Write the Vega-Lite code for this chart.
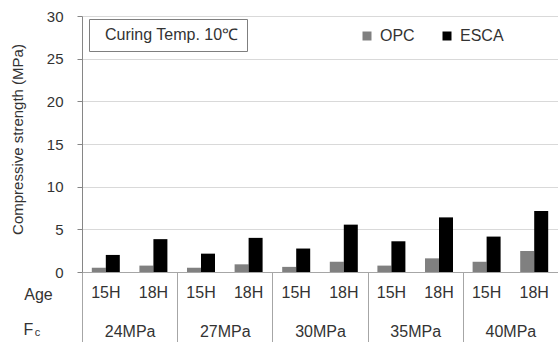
{
  "$schema": "https://vega.github.io/schema/vega-lite/v6.json",
  "width": 476,
  "height": 256,
  "autosize": {"type": "none"},
  "padding": {"left": 82, "top": 16, "right": 0, "bottom": 70},
  "config": {
    "font": "Liberation Sans",
    "view": {"stroke": null},
    "axis": {"labelColor": "#333333", "titleColor": "#333333", "titleFontWeight": "normal"}
  },
  "datasets": {
    "strength": [
      {"fc": "24MPa", "age": "15H", "key": "24MPa_15H", "series": "OPC", "value": 0.5},
      {"fc": "24MPa", "age": "15H", "key": "24MPa_15H", "series": "ESCA", "value": 2.0},
      {"fc": "24MPa", "age": "18H", "key": "24MPa_18H", "series": "OPC", "value": 0.75},
      {"fc": "24MPa", "age": "18H", "key": "24MPa_18H", "series": "ESCA", "value": 3.85},
      {"fc": "27MPa", "age": "15H", "key": "27MPa_15H", "series": "OPC", "value": 0.5},
      {"fc": "27MPa", "age": "15H", "key": "27MPa_15H", "series": "ESCA", "value": 2.15},
      {"fc": "27MPa", "age": "18H", "key": "27MPa_18H", "series": "OPC", "value": 0.9},
      {"fc": "27MPa", "age": "18H", "key": "27MPa_18H", "series": "ESCA", "value": 4.0},
      {"fc": "30MPa", "age": "15H", "key": "30MPa_15H", "series": "OPC", "value": 0.6},
      {"fc": "30MPa", "age": "15H", "key": "30MPa_15H", "series": "ESCA", "value": 2.75},
      {"fc": "30MPa", "age": "18H", "key": "30MPa_18H", "series": "OPC", "value": 1.2},
      {"fc": "30MPa", "age": "18H", "key": "30MPa_18H", "series": "ESCA", "value": 5.55},
      {"fc": "35MPa", "age": "15H", "key": "35MPa_15H", "series": "OPC", "value": 0.75},
      {"fc": "35MPa", "age": "15H", "key": "35MPa_15H", "series": "ESCA", "value": 3.6},
      {"fc": "35MPa", "age": "18H", "key": "35MPa_18H", "series": "OPC", "value": 1.6},
      {"fc": "35MPa", "age": "18H", "key": "35MPa_18H", "series": "ESCA", "value": 6.4},
      {"fc": "40MPa", "age": "15H", "key": "40MPa_15H", "series": "OPC", "value": 1.2},
      {"fc": "40MPa", "age": "15H", "key": "40MPa_15H", "series": "ESCA", "value": 4.15},
      {"fc": "40MPa", "age": "18H", "key": "40MPa_18H", "series": "OPC", "value": 2.46},
      {"fc": "40MPa", "age": "18H", "key": "40MPa_18H", "series": "ESCA", "value": 7.15}
    ]
  },
  "layer": [
    {
      "data": {"name": "strength"},
      "mark": {"type": "bar"},
      "encoding": {
        "x": {
          "field": "key", "type": "nominal",
          "scale": {"paddingInner": 0, "paddingOuter": 0},
          "axis": {
            "orient": "bottom",
            "labelExpr": "split(datum.label, '_')[1]",
            "labelAngle": 0, "labelFontSize": 16, "labelPadding": 12,
            "ticks": false, "grid": false,
            "domain": true, "domainColor": "#a6a6a6",
            "title": "Age", "titleFontSize": 16, "titleAngle": 0,
            "titleX": -44, "titleY": 22, "titleAlign": "center", "titleBaseline": "middle"
          }
        },
        "xOffset": {
          "field": "series", "type": "nominal", "sort": ["OPC", "ESCA"],
          "scale": {"paddingInner": 0, "paddingOuter": 0.7}
        },
        "y": {
          "field": "value", "type": "quantitative",
          "scale": {"domain": [0, 30], "nice": false},
          "axis": {
            "values": [0, 5, 10, 15, 20, 25, 30],
            "grid": true, "gridColor": "#d9d9d9",
            "domainColor": "#868686", "tickColor": "#868686", "tickSize": 5,
            "labelFontSize": 15, "labelPadding": 14,
            "title": "Compressive strength (MPa)", "titleFontSize": 15,
            "titleX": -65, "titleY": 123, "titleAlign": "center", "titleBaseline": "middle", "titleAngle": -90
          }
        },
        "color": {
          "field": "series", "type": "nominal", "sort": ["OPC", "ESCA"],
          "scale": {"domain": ["OPC", "ESCA"], "range": ["#808080", "#000000"]},
          "legend": {
            "orient": "none", "legendX": 277, "legendY": 12,
            "direction": "horizontal", "title": null,
            "symbolType": "square", "symbolSize": 81, "symbolStrokeWidth": 0,
            "labelFontSize": 16, "labelColor": "#333333", "labelOffset": 5, "columnPadding": 24
          }
        }
      }
    },
    {
      "data": {"name": "strength"},
      "mark": {"type": "bar", "opacity": 0},
      "encoding": {
        "x": {
          "field": "fc", "type": "nominal",
          "scale": {"paddingInner": 0, "paddingOuter": 0},
          "axis": {
            "orient": "bottom", "tickBand": "extent",
            "tickSize": 70, "tickColor": "#a6a6a6", "domain": false, "grid": false,
            "labelAngle": 0, "labelFontSize": 16, "labelPadding": -19,
            "title": "F", "titleFontSize": 16, "titleAngle": 0,
            "titleX": -54, "titleY": 57, "titleAlign": "center", "titleBaseline": "middle"
          }
        },
        "y": {"field": "value", "type": "quantitative"}
      }
    },
    {
      "data": {"values": [{"note": "Curing Temp. 10℃"}]},
      "mark": {"type": "point", "opacity": 0},
      "encoding": {
        "x": {
          "field": "note", "type": "nominal",
          "axis": {
            "orient": "bottom", "labels": false, "ticks": false, "domain": false, "grid": false,
            "title": "c", "titleFontSize": 11, "titleAngle": 0,
            "titleX": -45, "titleY": 60, "titleAlign": "center", "titleBaseline": "middle"
          }
        },
        "shape": {
          "field": "note", "type": "nominal",
          "legend": {
            "orient": "none", "legendX": 7, "legendY": 3,
            "title": null, "strokeColor": "#7f7f7f", "fillColor": "#ffffff", "padding": 8,
            "symbolSize": 0, "symbolOpacity": 0, "labelOffset": -8, "labelLimit": 400,
            "labelFontSize": 16, "labelColor": "#333333"
          }
        }
      }
    },
    {
      "mark": {"type": "rule", "color": "#ff0000", "strokeWidth": 2, "strokeDash": [2, 2]},
      "encoding": {"y": {"datum": 4.9, "type": "quantitative"}}
    }
  ],
  "resolve": {"scale": {"x": "independent"}, "axis": {"x": "independent"}}
}
